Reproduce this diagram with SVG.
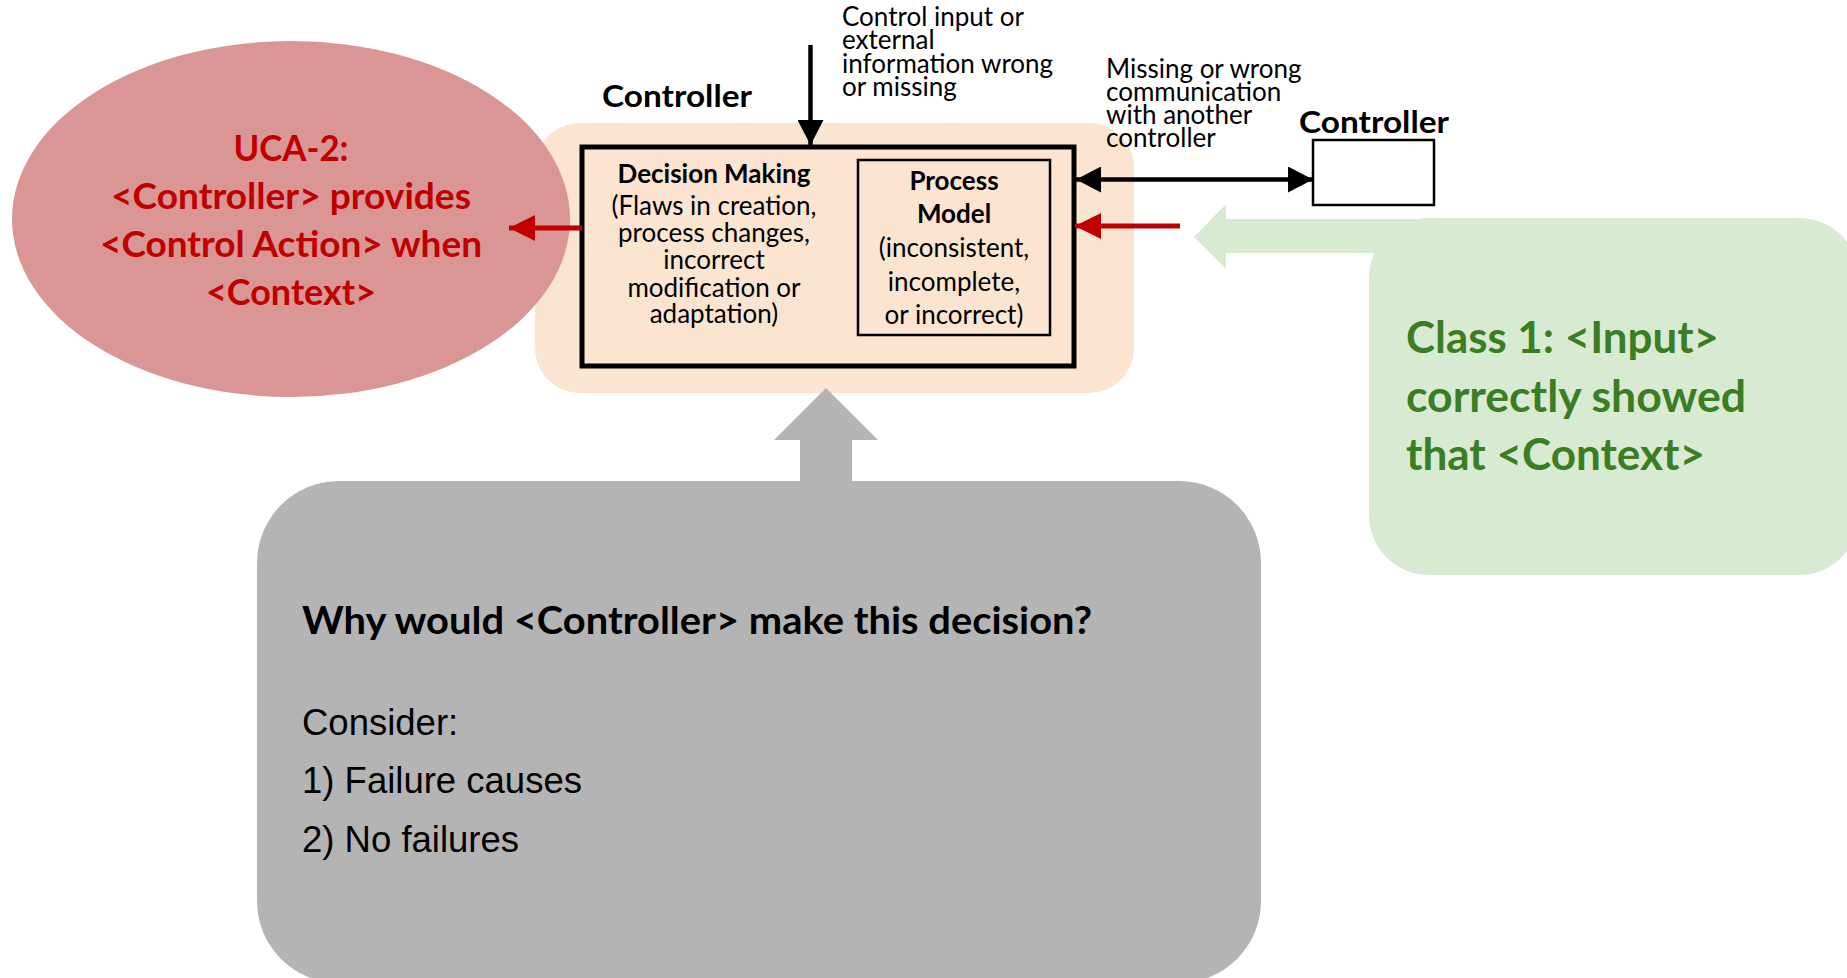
<svg xmlns="http://www.w3.org/2000/svg" width="1847" height="978" viewBox="0 0 1847 978">
  <defs>
    <style>
      .cal { font-family: Lato, "Open Sans", "Liberation Sans", sans-serif; }
      .b { font-weight: bold; }
      .uca { fill: #c00000; font-size: 37px; text-anchor: middle; }
      .ctl { fill: #000; font-size: 31px; }
      .lbl { fill: #000; font-size: 26px; }
      .mid { text-anchor: middle; }
      .green { fill: #3b7d23; font-size: 43px; }
      .arial { font-family: "Liberation Sans", Arial, sans-serif; font-size: 36.5px; fill: #000; }
      .blk { stroke: #000; stroke-width: 4.5; fill: none; }
      .red { stroke: #c00000; stroke-width: 5; fill: none; }
    </style>
    <marker id="headBlack" viewBox="0 0 25 26" refX="25" refY="13" markerWidth="25" markerHeight="26" markerUnits="userSpaceOnUse" orient="auto-start-reverse">
      <path d="M0,0 L25,13 L0,26 z" fill="#000"/>
    </marker>
    <marker id="headRed" viewBox="0 0 26 26" refX="26" refY="13" markerWidth="26" markerHeight="26" markerUnits="userSpaceOnUse" orient="auto">
      <path d="M0,0 L26,13 L0,26 z" fill="#c00000"/>
    </marker>
  </defs>

  <rect width="1847" height="978" fill="#ffffff"/>

  <!-- Controller body -->
  <g id="controller">
    <rect x="535" y="123" width="599" height="270" rx="45" ry="45" fill="#fbe4d0"/>
    <text class="cal b ctl" x="602" y="107" textLength="150" lengthAdjust="spacingAndGlyphs">Controller</text>
    <rect x="582" y="147" width="492" height="219" fill="#fbe4d0" stroke="#000" stroke-width="5"/>
  </g>

  <!-- Decision making part -->
  <g id="decision-making" class="cal lbl mid">
    <text class="b" x="714" y="183">Decision Making</text>
    <text x="714" y="215">(Flaws in creation,</text>
    <text x="714" y="242">process changes,</text>
    <text x="714" y="269">incorrect</text>
    <text x="714" y="297">modification or</text>
    <text x="714" y="323">adaptation)</text>
  </g>

  <!-- Process model -->
  <g id="process-model">
    <rect x="858" y="160" width="192" height="175" fill="#fbe4d0" stroke="#000" stroke-width="2.5"/>
    <g class="cal lbl mid">
      <text class="b" x="954" y="190">Process</text>
      <text class="b" x="954" y="223">Model</text>
      <text x="954" y="257">(inconsistent,</text>
      <text x="954" y="291">incomplete,</text>
      <text x="954" y="324">or incorrect)</text>
    </g>
  </g>

  <!-- UCA ellipse -->
  <g id="uca">
    <ellipse cx="291" cy="219" rx="279" ry="178" fill="#d99694"/>
    <text class="cal b uca" x="291" y="161" textLength="115" lengthAdjust="spacingAndGlyphs">UCA-2:</text>
    <text class="cal b uca" x="291" y="209" textLength="360" lengthAdjust="spacingAndGlyphs">&lt;Controller&gt; provides</text>
    <text class="cal b uca" x="291" y="257" textLength="382" lengthAdjust="spacingAndGlyphs">&lt;Control Action&gt; when</text>
    <text class="cal b uca" x="291" y="305" textLength="170" lengthAdjust="spacingAndGlyphs">&lt;Context&gt;</text>
  </g>

  <!-- Other controller -->
  <g id="other-controller">
    <text class="cal b ctl" x="1299" y="133" textLength="150" lengthAdjust="spacingAndGlyphs">Controller</text>
    <rect x="1313" y="140" width="121" height="65" fill="#fff" stroke="#000" stroke-width="2.5"/>
  </g>

  <!-- Input label -->
  <g id="input-label" class="cal lbl">
    <text x="842" y="26">Control input or</text>
    <text x="842" y="49">external</text>
    <text x="842" y="73">information wrong</text>
    <text x="842" y="96">or missing</text>
  </g>

  <!-- Communication label -->
  <g id="comm-label" class="cal lbl">
    <text x="1106" y="78">Missing or wrong</text>
    <text x="1106" y="101">communication</text>
    <text x="1106" y="124">with another</text>
    <text x="1106" y="147">controller</text>
  </g>

  <!-- Class 1 box -->
  <g id="class1">
    <rect x="1369" y="218" width="490" height="357" rx="60" ry="60" fill="#d9ead3"/>
    <text class="cal b green" x="1406" y="353" textLength="313" lengthAdjust="spacingAndGlyphs">Class 1: &lt;Input&gt;</text>
    <text class="cal b green" x="1406" y="412" textLength="340" lengthAdjust="spacingAndGlyphs">correctly showed</text>
    <text class="cal b green" x="1406" y="470" textLength="299" lengthAdjust="spacingAndGlyphs">that &lt;Context&gt;</text>
  </g>

  <!-- Question box -->
  <g id="question">
    <rect x="257" y="481" width="1004" height="502" rx="82" ry="82" fill="#b4b4b4"/>
    <text class="cal b" x="302" y="634" font-size="38" fill="#000" textLength="790" lengthAdjust="spacingAndGlyphs">Why would &lt;Controller&gt; make this decision?</text>
    <text class="arial" x="302" y="735">Consider:</text>
    <text class="arial" x="302" y="793">1) Failure causes</text>
    <text class="arial" x="302" y="852">2) No failures</text>
  </g>

  <!-- Connectors -->
  <g id="connectors">
    <line class="blk" x1="810.5" y1="45" x2="810.5" y2="145" marker-end="url(#headBlack)"/>
    <line class="blk" x1="1076" y1="179.5" x2="1313" y2="179.5" marker-start="url(#headBlack)" marker-end="url(#headBlack)"/>
    <line class="red" x1="1180" y1="226" x2="1075" y2="226" marker-end="url(#headRed)"/>
    <line class="red" x1="582" y1="228" x2="509" y2="228" marker-end="url(#headRed)"/>
    <polygon points="826,388 878,440 852,440 852,485 800,485 800,440 774,440" fill="#b4b4b4"/>
    <polygon points="1194,237 1226,204 1226,219 1430,219 1430,253 1226,253 1226,269" fill="#d9ead3"/>
  </g>
</svg>
